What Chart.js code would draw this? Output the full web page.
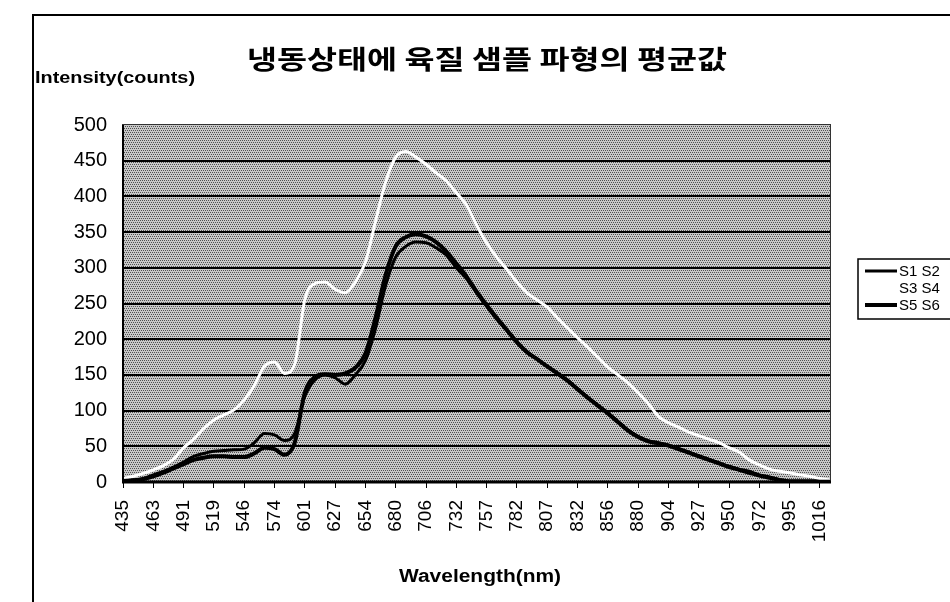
<!DOCTYPE html>
<html><head><meta charset="utf-8">
<script src="https://cdn.jsdelivr.net/npm/chart.js@4.4.0/dist/chart.umd.min.js"></script>
<style>html,body{margin:0;padding:0;background:#fff;overflow:hidden}canvas{display:block}</style>
</head><body>
<canvas id="c" width="950" height="602"></canvas>
<script>
const chartTitle = '냉동상태에 육질 샘플 파형의 평균값';
const yTitle = 'Intensity(counts)';
const xTitle = 'Wavelength(nm)';
const wavelengthTicks = ['435','463','491','519','546','574','601','627','654','680','706','732','757','782','807','832','856','880','904','927','950','972','995','1016'];
const seriesNames = ['S1 S2','S3 S4','S5 S6'];
const s1s2 = [2,3,5,10,15,21,28,36,40,43, 44,45,46,55,68,66,58,68,120,143, 150,146,137,150,170,215,275,315,330,336, 335,328,318,300,285,265,246,228,212,195, 181,172,162,153,143,131,119,108,97,85, 73,64,58,55,52,47,42,37,32,27, 22,18,15,10,7,3,1,1,1,1, 1];
const s3s4 = [5,8,12,17,23,32,48,60,75,87, 94,101,115,135,162,168,152,165,255,278, 280,270,265,280,308,365,420,455,463,455, 445,433,422,405,388,360,335,315,298,280, 265,255,245,230,216,202,189,175,161,150, 139,125,110,92,83,77,70,65,60,55, 48,42,31,24,18,15,13,10,8,5, 3];
const s5s6 = [1,2,4,8,13,19,25,31,34,36, 36,35,35,40,48,46,38,55,125,147, 151,150,152,160,180,230,290,330,343,347, 344,336,323,306,288,267,248,230,213,196, 182,172,162,152,142,130,118,107,96,84, 72,63,57,54,51,46,41,36,31,26, 21,17,13,9,6,3,1,1,1,1, 1];

// categories: each tick label followed by two unlabeled samples, plus one trailing sample
const categories = [];
wavelengthTicks.forEach((t, i) => { categories.push(t); if (i < wavelengthTicks.length - 1) categories.push('', ''); });
categories.push('');

const tile = document.createElement('canvas');
tile.width = 4; tile.height = 4;
const tc = tile.getContext('2d');
tc.fillStyle = '#c8c8c8'; tc.fillRect(0, 0, 4, 4);
tc.fillStyle = '#505050';
[[0,0],[2,0],[1,2],[3,2]].forEach(([x, y]) => tc.fillRect(x, y, 1, 1));

function fitText(ctx, text, x, y, targetW, align) {
  const w = ctx.measureText(text).width;
  const sx = targetW / w;
  ctx.save();
  ctx.translate(x, y);
  ctx.scale(sx, 1);
  ctx.textAlign = align;
  ctx.fillText(text, 0, 0);
  ctx.restore();
}

const decor = {
  id: 'decor',
  beforeDraw(chart) {
    const { ctx, chartArea: a } = chart;
    ctx.save();
    ctx.fillStyle = '#fff';
    ctx.fillRect(0, 0, chart.width, chart.height);
    ctx.strokeStyle = '#000'; ctx.lineWidth = 2;
    ctx.beginPath(); ctx.moveTo(33, 603); ctx.lineTo(33, 15); ctx.lineTo(951, 15); ctx.stroke();
    ctx.fillStyle = ctx.createPattern(tile, 'repeat');
    ctx.fillRect(a.left, a.top, a.right - a.left, a.bottom - a.top);
    ctx.restore();
  },
  afterDatasetsDraw(chart) {
    const { ctx, chartArea: a } = chart;
    ctx.save();
    ctx.strokeStyle = '#333'; ctx.lineWidth = 1;
    ctx.strokeRect(a.left - 0.5, a.top - 0.5, a.right - a.left + 1, a.bottom - a.top + 1);
    ctx.strokeStyle = '#000'; ctx.lineWidth = 3;
    ctx.beginPath(); ctx.moveTo(a.left - 1, a.bottom); ctx.lineTo(a.right + 1, a.bottom); ctx.stroke();
    ctx.lineWidth = 2;
    ctx.beginPath(); ctx.moveTo(a.left, a.top); ctx.lineTo(a.left, a.bottom); ctx.stroke();
    ctx.restore();
  },
  afterDraw(chart) {
    const { ctx } = chart;
    ctx.save();
    ctx.fillStyle = '#000';
    ctx.textBaseline = 'middle';
    ctx.font = 'bold 26px "Noto Sans CJK KR"';
    fitText(ctx, chartTitle, 487, 59, 480, 'center');
    ctx.font = 'bold 17px "Liberation Sans", Arial';
    fitText(ctx, yTitle, 35, 78, 160, 'left');
    ctx.font = 'bold 18px "Liberation Sans", Arial';
    fitText(ctx, xTitle, 480, 577, 162, 'center');
    // legend
    ctx.strokeStyle = '#000'; ctx.lineWidth = 1.5;
    ctx.fillStyle = '#fff';
    ctx.fillRect(858, 259, 100, 60);
    ctx.strokeRect(858, 259, 100, 60);
    ctx.font = '15px "Liberation Sans", Arial';
    ctx.textAlign = 'left';
    chart.data.datasets.forEach((ds, i) => {
      const y = 271 + i * 17;
      ctx.strokeStyle = ds.borderColor; ctx.lineWidth = ds.borderWidth;
      ctx.beginPath(); ctx.moveTo(865, y); ctx.lineTo(897, y); ctx.stroke();
      ctx.fillStyle = '#000';
      ctx.fillText(ds.label, 899, y + 1);
    });
    ctx.restore();
  }
};

new Chart(document.getElementById('c'), {
  type: 'line',
  data: {
    labels: categories,
    datasets: [
      { label: seriesNames[0], data: s1s2, borderColor: '#000', borderWidth: 3, pointRadius: 0, cubicInterpolationMode: 'monotone', fill: false },
      { label: seriesNames[1], data: s3s4, borderColor: '#fff', borderWidth: 3, pointRadius: 0, cubicInterpolationMode: 'monotone', fill: false },
      { label: seriesNames[2], data: s5s6, borderColor: '#000', borderWidth: 4, pointRadius: 0, cubicInterpolationMode: 'monotone', fill: false }
    ]
  },
  options: {
    responsive: false,
    animation: false,
    devicePixelRatio: 1,
    layout: { padding: { top: 125, right: 120, left: 0, bottom: 0 } },
    plugins: { legend: { display: false }, title: { display: false }, tooltip: { enabled: false } },
    scales: {
      x: {
        type: 'category',
        offset: false,
        border: { display: false },
        grid: {
          display: true, drawOnChartArea: false, drawTicks: true, tickLength: 6, lineWidth: 1,
          color: (c) => (c.tick && c.tick.label) ? '#000' : 'rgba(0,0,0,0)'
        },
        ticks: {
          autoSkip: false, maxRotation: 90, minRotation: 90, padding: 12,
          color: '#000', font: { family: '"Liberation Sans", Arial', size: 19 },
          callback: function (v) { return this.getLabelForValue(v); }
        },
        afterFit: (s) => { s.height = 120; }
      },
      y: {
        min: 0, max: 500,
        border: { display: false },
        grid: {
          drawTicks: false, lineWidth: 2,
          color: (c) => (c.tick && c.tick.value > 0 && c.tick.value < 500) ? '#000' : 'rgba(0,0,0,0)'
        },
        ticks: { stepSize: 50, padding: 16, color: '#000', font: { family: '"Liberation Sans", Arial', size: 20 } },
        afterFit: (s) => { s.width = 123; }
      }
    }
  },
  plugins: [decor]
});
</script>
</body></html>
